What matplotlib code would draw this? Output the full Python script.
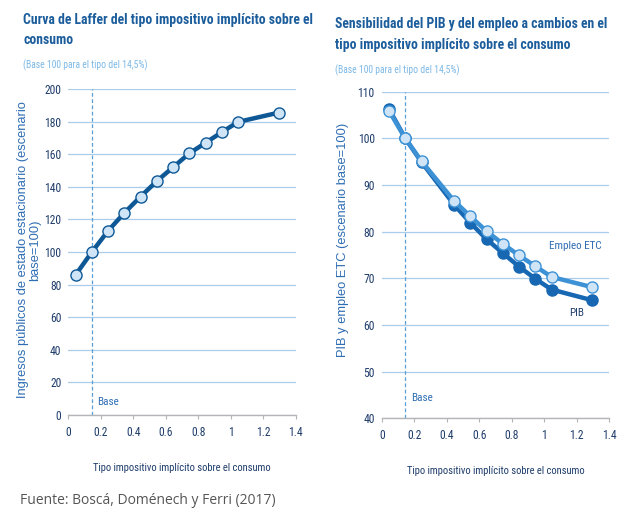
import matplotlib
matplotlib.use("Agg")
import matplotlib.pyplot as plt
from matplotlib import font_manager
from matplotlib.font_manager import FontProperties
import os

# ---- data ----
laffer_x = [0.045, 0.145, 0.245, 0.345, 0.445, 0.545, 0.645, 0.745, 0.845, 0.945, 1.045, 1.295]
laffer_y = [86, 100, 113, 124, 134, 143.5, 152, 160.5, 167, 173.5, 179.8, 185.5]

sens_x = [0.045, 0.145, 0.245, 0.445, 0.545, 0.645, 0.745, 0.845, 0.945, 1.045, 1.295]
empleo_y = [105.9, 100, 95.1, 86.6, 83.3, 80.1, 77.4, 74.9, 72.6, 70.3, 68.1]
pib_y = [106.3, 100, 94.9, 85.8, 81.9, 78.4, 75.4, 72.5, 69.9, 67.6, 65.3]

base_x = 0.145
xticks = [0, 0.2, 0.4, 0.6, 0.8, 1, 1.2, 1.4]
xtick_labels = ["0", "0.2", "0.4", "0.6", "0.8", "1", "1.2", "1.4"]
left_yticks = list(range(0, 201, 20))
right_yticks = list(range(40, 111, 10))

title_left = ["Curva de Laffer del tipo impositivo implícito sobre el", "consumo"]
title_right = ["Sensibilidad del PIB y del empleo a cambios en el",
               "tipo impositivo implícito sobre el consumo"]
subtitle = "(Base 100 para el tipo del 14,5%)"
xlabel = "Tipo impositivo implícito sobre el consumo"
ylabel_left = "Ingresos públicos de estado estacionario (escenario\nbase=100)"
ylabel_right = "PIB y empleo ETC (escenario base=100)"
source = "Fuente: Boscá, Doménech y Ferri (2017)"

# ---- find a narrow font ----
paths = {os.path.basename(f.fname): f.fname for f in font_manager.fontManager.ttflist}
pairs = [
    ("LiberationSansNarrow-Regular.ttf", "LiberationSansNarrow-Bold.ttf"),
    ("RobotoCondensed-Regular.ttf", "RobotoCondensed-Bold.ttf"),
    ("PT_Sans-Narrow-Web-Regular.ttf", "PT_Sans-Narrow-Web-Bold.ttf"),
    ("PTSansNarrow-Regular.ttf", "PTSansNarrow-Bold.ttf"),
    ("PragatiNarrow-Regular.ttf", "PragatiNarrow-Bold.ttf"),
    ("BarlowSemiCondensed-Regular.ttf", "BarlowSemiCondensed-Bold.ttf"),
    ("AsapCondensed-Regular.ttf", "AsapCondensed-Bold.ttf"),
    ("DejaVuSansCondensed.ttf", "DejaVuSansCondensed-Bold.ttf"),
]
reg_file = bold_file = None
for r, b in pairs:
    if r in paths and b in paths:
        reg_file, bold_file = paths[r], paths[b]
        break


def NREG(s):
    if reg_file:
        return FontProperties(fname=reg_file, size=s)
    return FontProperties(family="Liberation Sans", size=s)


def NBOLD(s):
    if bold_file:
        return FontProperties(fname=bold_file, size=s)
    return FontProperties(family="Liberation Sans", weight="bold", size=s)


def WIDE(s):
    return FontProperties(family=["Liberation Sans", "DejaVu Sans"], size=s)


TITLE_C = "#1c5d9c"
SUB_C = "#7cb8e6"
TICK_C = "#1f3d6b"
GRID_C = "#a9cdea"
LAB_C = "#2e6db3"

fig = plt.figure(figsize=(6.25, 5.16), dpi=100)
renderer = fig.canvas.get_renderer()


def fit_size(s, fp_func, target_px, base=10.0):
    t = fig.text(0, 0, s, fontproperties=fp_func(base))
    w = t.get_window_extent(renderer).width
    t.remove()
    return base * target_px / w


title_sz = fit_size(title_left[0], NBOLD, 290)
sub_sz = fit_size(subtitle, NREG, 124)
tick_sz = 8.4
xl_sz = 7.6
ann_sz = 8.0
yl_sz = fit_size(ylabel_left.split("\n")[0], WIDE, 298)
yr_sz = fit_size(ylabel_right, WIDE, 234)
src_sz = fit_size(source, lambda s: FontProperties(family=["Open Sans", "DejaVu Sans"], size=s), 255)

axL = fig.add_axes([0.1093, 0.1957, 0.3638, 0.6318])
axR = fig.add_axes([0.6107, 0.1893, 0.3642, 0.633])


def style(ax, yticks, ylim):
    ax.set_xlim(0, 1.4)
    ax.set_ylim(*ylim)
    ax.set_xticks(xticks)
    ax.set_xticklabels(xtick_labels)
    ax.set_yticks(yticks)
    for s in ["top", "right", "left"]:
        ax.spines[s].set_visible(False)
    ax.spines["bottom"].set_color("#b5b5b5")
    ax.spines["bottom"].set_linewidth(1.0)
    ax.tick_params(axis="x", colors="#b5b5b5", length=3, width=0.8, pad=5)
    ax.tick_params(axis="y", length=0, pad=5)
    for lab in ax.get_xticklabels() + ax.get_yticklabels():
        lab.set_color(TICK_C)
        lab.set_fontproperties(NREG(tick_sz))
    ax.grid(axis="y", color=GRID_C, linewidth=0.9)
    ax.set_axisbelow(True)
    ax.axvline(base_x, color="#5a9fd6", linestyle=(0, (3, 2)), linewidth=0.9, zorder=1)


style(axL, left_yticks, (0, 200))
style(axR, right_yticks, (40, 110))

# left chart
axL.plot(laffer_x, laffer_y, color="#0e5896", linewidth=3.2, marker="o", markersize=8,
         markerfacecolor="#cfe5f7", markeredgecolor="#0e5896", markeredgewidth=1.0, zorder=3)
axL.text(0.18, 8, "Base", color=LAB_C, fontproperties=NREG(ann_sz), va="center", ha="left")
axL.set_xlabel(xlabel, fontproperties=NREG(xl_sz), color=TICK_C, labelpad=17)
axL.set_ylabel(ylabel_left, fontproperties=WIDE(yl_sz), color=LAB_C, linespacing=1.0)
axL.yaxis.set_label_coords((41 - 68.3) / 227.4, 0.506)

# right chart
axR.plot(sens_x, pib_y, color="#1767b3", linewidth=3.2, marker="o", markersize=8,
         markerfacecolor="#1767b3", markeredgecolor="#1767b3", zorder=3)
axR.plot(sens_x, empleo_y, color="#3d92d6", linewidth=3.2, marker="o", markersize=8,
         markerfacecolor="#cfe5f7", markeredgecolor="#3d92d6", markeredgewidth=1.0, zorder=4)
axR.text(1.19, 77, "Empleo ETC", color=LAB_C, fontproperties=NREG(ann_sz), ha="center", va="center")
axR.text(1.2, 62.6, "PIB", color=TICK_C, fontproperties=NREG(ann_sz), ha="center", va="center")
axR.text(0.18, 44.3, "Base", color=LAB_C, fontproperties=NREG(ann_sz), va="center", ha="left")
axR.set_xlabel(xlabel, fontproperties=NREG(xl_sz), color=TICK_C, labelpad=17)
axR.set_ylabel(ylabel_right, fontproperties=WIDE(yr_sz), color=LAB_C)
axR.yaxis.set_label_coords((349 - 381.7) / 227.6, 0.546)

# titles
fig.text(23 / 625, 1 - 20 / 516, title_left[0], fontproperties=NBOLD(title_sz),
         color=TITLE_C, va="center", ha="left")
fig.text(23 / 625, 1 - 40 / 516, title_left[1], fontproperties=NBOLD(title_sz),
         color=TITLE_C, va="center", ha="left")
fig.text(23 / 625, 1 - 65 / 516, subtitle, fontproperties=NREG(sub_sz),
         color=SUB_C, va="center", ha="left")
fig.text(335 / 625, 1 - 24 / 516, title_right[0], fontproperties=NBOLD(title_sz),
         color=TITLE_C, va="center", ha="left")
fig.text(335 / 625, 1 - 45 / 516, title_right[1], fontproperties=NBOLD(title_sz),
         color=TITLE_C, va="center", ha="left")
fig.text(335 / 625, 1 - 70 / 516, subtitle, fontproperties=NREG(sub_sz),
         color=SUB_C, va="center", ha="left")

fig.text(20 / 625, 1 - 500 / 516, source,
         family=["Open Sans", "DejaVu Sans"], fontsize=src_sz, color="#555555",
         va="center", ha="left")

fig.savefig("out.png", dpi=100)
